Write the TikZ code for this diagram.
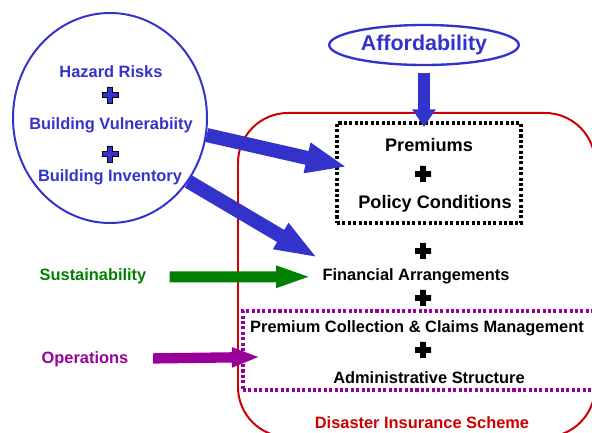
\documentclass[tikz,border=0pt]{standalone}
\usepackage{fontspec}
\setmainfont{Liberation Sans}
\usetikzlibrary{shapes.geometric,arrows.meta}
\definecolor{hazblue}{RGB}{51,51,204}
\definecolor{sustgreen}{RGB}{0,128,0}
\definecolor{opspurple}{RGB}{153,0,153}
\definecolor{schemered}{RGB}{204,0,0}
\begin{document}
\begin{tikzpicture}[x=0.03cm,y=-0.03cm,
    font=\bfseries\fontsize{14}{16}\selectfont,
    txt/.style={inner sep=0pt,anchor=base},
    dotbox/.style={draw,line width=2.6pt,dash pattern=on 2.6pt off 2pt,inner sep=0pt},
    pluspic/.pic={\path[pic actions] (-2.8,-8) -- (2.8,-8) -- (2.8,-2.8) -- (8,-2.8) -- (8,2.8) -- (2.8,2.8)
        -- (2.8,8) -- (-2.8,8) -- (-2.8,2.8) -- (-8,2.8) -- (-8,-2.8) -- (-2.8,-2.8) -- cycle;}]
    \useasboundingbox (0,0) rectangle (592,433);
    \clip (0,0) rectangle (592,433);

    % the scheme
    \node[draw=schemered,line width=1.7pt,rounded corners=1.5cm,
          minimum width=10.71cm,minimum height=9.72cm] (scheme) at (416.5,275) {};
    \node[dotbox] (premBox) at (429,173) [minimum width=5.52cm,minimum height=3cm] {};
    \node[dotbox,draw=opspurple] (adminBox) at (421.5,350.5) [minimum width=10.71cm,minimum height=2.37cm] {};

    \node[txt,font=\bfseries\fontsize{15.5}{17}\selectfont] (prem) at (429,152) {Premiums};
    \pic[fill=black] at (423,174) {pluspic};
    \node[txt,font=\bfseries\fontsize{15.5}{17}\selectfont] (policy) at (435,209) {Policy Conditions};
    \pic[fill=black] at (423,251) {pluspic};
    \node[txt] (fin) at (416,281) {Financial Arrangements};
    \pic[fill=black] at (423,298) {pluspic};
    \node[txt] (collect) at (417,333) {Premium Collection \& Claims Management};
    \pic[fill=black] at (423,350) {pluspic};
    \node[txt] (admin) at (429,384) {Administrative Structure};
    \node[txt,schemered] (schemeName) at (422,428) {Disaster Insurance Scheme};

    % the hazard circle
    \node[ellipse,draw=hazblue,line width=1.7pt,minimum width=5.82cm,minimum height=6.3cm] (hazCircle) at (110,118) {};
    \node[txt,hazblue] (hazard) at (111,78) {Hazard Risks};
    \pic[fill=hazblue,draw=black,line width=0.6pt] at (110,95) {pluspic};
    \node[txt,hazblue] (vuln) at (111,130) {Building Vulnerabiity};
    \pic[fill=hazblue,draw=black,line width=0.6pt] at (110,154) {pluspic};
    \node[txt,hazblue] (inventory) at (110,182) {Building Inventory};

    \node[ellipse,draw=hazblue,line width=2pt,minimum width=5.58cm,minimum height=1.2cm,
          text=hazblue,font=\bfseries\fontsize{18.3}{20}\selectfont] (afford) at (424,45) {Affordability};

    \node[txt,sustgreen] (sust) at (93,281) {Sustainability};
    \node[txt,opspurple] (ops) at (85,363) {Operations};

    % arrows
    \coordinate (affTip) at (424,127);
    \coordinate (premTip) at (347,167);
    \coordinate (finTip) at (318,258);
    \coordinate (opsTip) at (260,357);

    \draw[hazblue,line width=11pt,shorten <=6pt,-{Triangle[length=15pt,width=19pt]}] (afford.south) -- (affTip);
    \draw[hazblue,line width=12pt,-{Triangle[length=35pt,width=24pt]}] (hazCircle.-10) -- (premTip);
    \draw[hazblue,line width=12pt,-{Triangle[length=37pt,width=23pt]}] (hazCircle.-39) -- (finTip);
    \draw[sustgreen,line width=9.4pt,shorten <=19.6pt,shorten >=8.5pt,-{Triangle[length=31pt,width=16.5pt]}] (sust.east) -- (fin.west);
    \draw[opspurple,line width=8.8pt,shorten <=21pt,-{Triangle[length=24pt,width=15.5pt]}] (ops.east) -- (opsTip);
\end{tikzpicture}
\end{document}
